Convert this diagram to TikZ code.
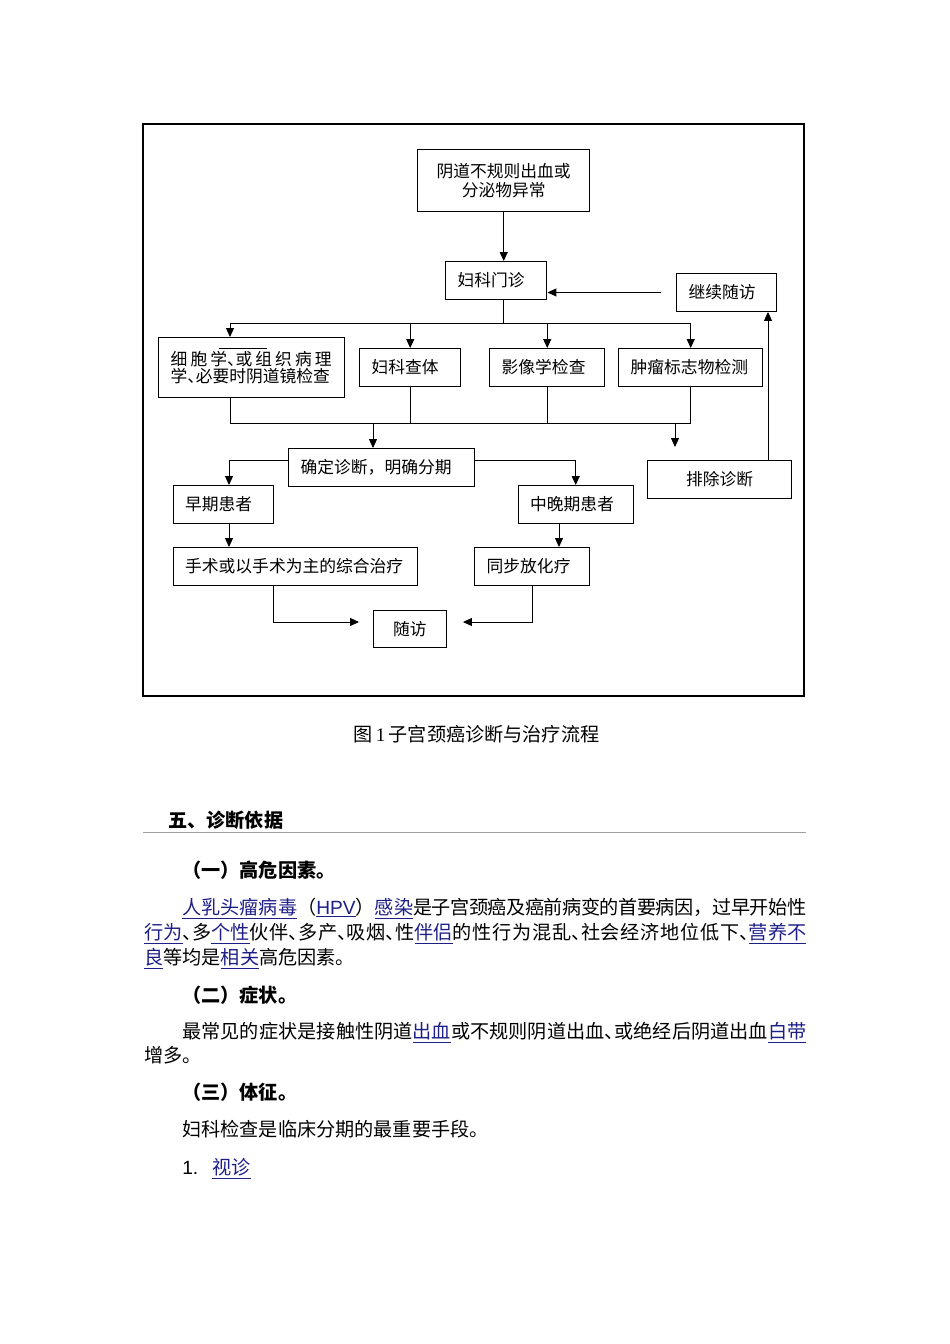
\documentclass[tikz,border=0pt]{standalone}
\usepackage{fontspec}
\setmainfont{Noto Sans CJK SC}
\newfontfamily\latinsf{Liberation Sans}
\newfontfamily\latinrm{Liberation Serif}
\usetikzlibrary{arrows.meta}
\XeTeXlinebreaklocale "zh"
\XeTeXlinebreakskip=0pt
\definecolor{linkblue}{RGB}{30,30,135}
\definecolor{rulegray}{RGB}{160,160,160}
\newlength\px
\setlength\px{0.6266pt}
\newcommand\dun{\makebox[.5em][l]{、}}
\newcommand\lnk[1]{\textcolor{linkblue}{\underline{#1}}}
\newcommand\justline[2]{\parbox[t]{#1}{\XeTeXlinebreakskip=0pt plus 3pt minus 1pt\parfillskip=0pt\noindent #2}}

\tikzset{
  box/.style={draw, line width=0.9pt, anchor=north west, inner xsep=12\px, inner ysep=0pt,
    minimum height=37.5\px, align=left, font=\fontsize{10.5}{12}\selectfont},
  cbox/.style={box, align=center},
  conn/.style={line width=0.6pt},
  arr/.style={conn, -{Triangle[length=5.6pt,width=5pt]}},
  body/.style={anchor=west, inner sep=0pt, font=\fontsize{12}{14}\selectfont,
    text height=10.56pt, text depth=1.44pt},
  head/.style={body, font=\bfseries\fontsize{12}{14}\selectfont},
}

\begin{document}
\begin{tikzpicture}[x=1\px, y=-1\px]
    \useasboundingbox (0,0) rectangle (950,1344);

    %----------------------
    % frame of the figure
    %----------------------
    \draw[line width=0.8pt] (143,124) rectangle (804,696);

    % first row: symptom and clinic
    \node[cbox, text width=148\px, minimum height=62\px] (sym) at (417,149) {阴道不规则出血或\\分泌物异常};
    \node[box, text width=77\px] (clinic) at (445,261) {妇科门诊};
    \node[box, text width=76\px] (keep) at (676,273) {继续随访};

    % examinations
    \node[box, text width=162\px, minimum height=60\px, font=\fontsize{10.5}{11.1}\selectfont] (cyto) at (158,337)
        {\justline{161\px}{细胞学\dun 或组织病理}\\学\dun 必要时阴道镜检查};
    \node[box, text width=77\px] (gyn) at (359,348) {妇科查体};
    \node[box, text width=91\px] (img) at (489,348) {影像学检查};
    \node[box, text width=120\px] (tumor) at (618,348) {肿瘤标志物检测};

    % diagnosis
    \node[box, text width=162\px] (diag) at (288,448) {确定诊断，明确分期};
    \node[cbox, text width=120\px] (excl) at (647,460) {排除诊断};

    % stages and treatment
    \node[box, text width=76\px] (early) at (172.5,485) {早期患者};
    \node[box, text width=91\px] (late) at (517.5,485) {中晚期患者};
    \node[box, text width=220\px] (surg) at (172.5,547) {手术或以手术为主的综合治疗};
    \node[box, text width=91\px] (chemo) at (474,547) {同步放化疗};
    \node[cbox, text width=48.5\px] (follow) at (373,609.5) {随访};

    %----------------------
    % connectors
    %----------------------
    \coordinate (bus1) at (503,323);
    \coordinate (bus2) at (373,423);
    \coordinate (cytoin) at (230,330);
    \coordinate (exclin) at (675,447);
    \coordinate (upx) at (768,460);
    \coordinate (split) at (229,460);
    \coordinate (latex) at (559,522);
    \coordinate (join) at (273,622);
    \coordinate (fl) at ([xshift=-14\px]follow.west);
    \coordinate (fr) at ([xshift=16\px]follow.east);
    \coordinate (kin) at ([xshift=-15\px]keep.west);

    \draw[arr] (sym.south) -- (sym.south |- clinic.north);
    \draw[arr] (kin) -- (kin -| clinic.east);

    \draw[conn] (bus1 |- clinic.south) -- (bus1);
    \draw[conn] (cytoin |- bus1) -- (tumor.north |- bus1);
    \draw[arr] (cytoin |- bus1) -- (cytoin |- cyto.north);
    \foreach \n in {gyn,img,tumor}
        \draw[arr] (\n.north |- bus1) -- (\n.north);
    % stray stroke over the first line
    \draw[conn] ([xshift=61\px,yshift=-11\px]cyto.north west) -- ++(48,0);

    \draw[conn] (cytoin |- cyto.south) -- (cytoin |- bus2) -- (tumor.south |- bus2) -- (tumor.south);
    \foreach \n in {gyn,img}
        \draw[conn] (\n.south) -- (\n.south |- bus2);
    \draw[arr] (bus2) -- (bus2 |- diag.north);
    \draw[arr] (exclin |- bus2) -- (exclin);
    \draw[arr] (upx |- excl.north) -- (upx |- keep.south);

    \draw[arr] (split -| diag.west) -- (split) -- (split |- early.north);
    \draw[arr] (split -| diag.east) -- (late.north |- split) -- (late.north);
    \draw[arr] (split |- early.south) -- (split |- surg.north);
    \draw[arr] (latex |- late.south) -- (latex |- chemo.north);
    \draw[arr] (join |- surg.south) -- (join) -- (fl |- join);
    \draw[arr] (chemo.south) -- (chemo.south |- join) -- (fr |- join);

    %----------------------
    % caption and text
    %----------------------
    \node[body, anchor=center] (cap) at (476.5,734) {图\,{\latinrm 1}\,子宫颈癌诊断与治疗流程};

    \node[head] (sec) at (168,820) {五、诊断依据};
    \draw[rulegray, line width=0.6pt] (143,832) -- (806,832);

    \node[head] (risk) at (182,870) {（一）高危因素。};
    \node[body] (p1a) at (182,907) {\justline{624\px}{\lnk{人乳头瘤病毒}（\lnk{\latinsf HPV}）\lnk{感染}是子宫颈癌及癌前病变的首要病因，过早开始性}};
    \node[body] (p1b) at (144,932) {\justline{662\px}{\lnk{行为}\dun 多\lnk{个性}伙伴\dun 多产\dun 吸烟\dun 性\lnk{伴侣}的性行为混乱\dun 社会经济地位低下\dun \lnk{营养不}}};
    \node[body] (p1c) at (144,957) {\lnk{良}等均是\lnk{相关}高危因素。};

    \node[head] (symp) at (182,995) {（二）症状。};
    \node[body] (p2a) at (182,1031) {\justline{624\px}{最常见的症状是接触性阴道\lnk{出血}或不规则阴道出血\dun 或绝经后阴道出血\lnk{白带}}};
    \node[body] (p2b) at (144,1055) {增多。};

    \node[head] (sign) at (182,1092) {（三）体征。};
    \node[body] (p3) at (182,1129) {妇科检查是临床分期的最重要手段。};
    \node[body] (num) at (182,1167) {\latinsf 1.};
    \node[body] (look) at (212,1167) {\lnk{视诊}};
\end{tikzpicture}
\end{document}
